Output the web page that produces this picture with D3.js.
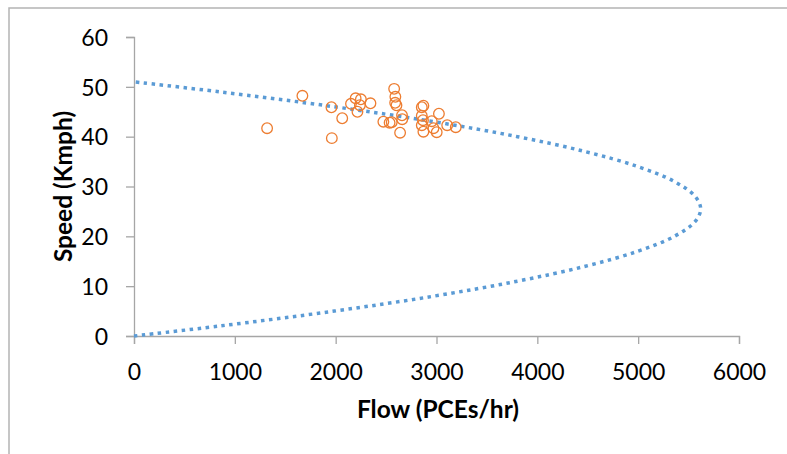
<!DOCTYPE html>
<html>
<head>
<meta charset="utf-8">
<script src="https://cdn.jsdelivr.net/npm/d3@7"></script>
<style>
  body { margin: 0; background: #fff; }
  svg { display: block; font-family: Lato, "Open Sans", sans-serif; }
</style>
</head>
<body>
<div id="chart"></div>
<script>
// observed flow (PCEs/hr) and speed (Kmph) pairs
const obsFlow  = [1320, 1670, 1958, 1962, 2065, 2152, 2198, 2250, 2240, 2216, 2345,
                  2473, 2535, 2556, 2580, 2592, 2590, 2603, 2658, 2660, 2639,
                  2854, 2870, 2854, 2866, 2854, 2870, 2953, 2970, 3002, 3024, 3106, 3191];
const obsSpeed = [41.7, 48.2, 45.9, 39.7, 43.7, 46.6, 47.7, 47.5, 46.3, 45.0, 46.7,
                  43.0, 42.8, 42.9, 49.6, 48.0, 46.8, 46.3, 44.3, 43.5, 40.8,
                  45.9, 46.2, 44.2, 43.3, 42.3, 41.0, 43.1, 41.7, 40.9, 44.6, 42.3, 41.9];

// speed-flow model curve
const curveSpeed = [0, 2, 5, 8, 11, 14, 17, 20, 23, 25.5, 28, 31, 34, 37, 40, 43, 46, 49, 51];
const curveFlow  = [0, 847, 1988, 2974, 3803, 4477, 4996, 5359, 5566, 5620,
                    5566, 5359, 4996, 4477, 3803, 2974, 1988, 847, 0];

const xTicks = [0, 1000, 2000, 3000, 4000, 5000, 6000];
const yTicks = [0, 10, 20, 30, 40, 50, 60];

const W = 787, H = 454;
const margin = {top: 37, right: 48, bottom: 118, left: 134};
const width = W - margin.left - margin.right;
const height = H - margin.top - margin.bottom;

const svg = d3.select("#chart").append("svg")
  .attr("width", W)
  .attr("height", H);

// outer frame (only left and top edges are inside the picture)
svg.append("rect")
  .attr("x", 9).attr("y", 8)
  .attr("width", W + 20).attr("height", H + 20)
  .attr("fill", "none")
  .attr("stroke", "#b4b4b4")
  .attr("stroke-width", 1.5);

const g = svg.append("g")
  .attr("transform", "translate(" + margin.left + "," + margin.top + ")");

const x = d3.scaleLinear().domain([0, 6000]).range([0, width]);
const y = d3.scaleLinear().domain([0, 60]).range([height, 0]);

// axes
const xAxis = g.append("g")
  .attr("transform", "translate(0," + height + ")")
  .call(d3.axisBottom(x).tickValues(xTicks).tickSize(8).tickPadding(20).tickFormat(d3.format("d")));
const yAxis = g.append("g")
  .call(d3.axisLeft(y).tickValues(yTicks).tickSize(8).tickPadding(18).tickFormat(d3.format("d")));

[xAxis, yAxis].forEach(a => {
  a.select(".domain").attr("stroke", "#a6a6a6").attr("stroke-width", 1.3);
  a.selectAll(".tick line").attr("stroke", "#a6a6a6").attr("stroke-width", 1.3);
  a.selectAll(".tick text")
    .attr("fill", "#000")
    .style("font-family", "Lato, sans-serif")
    .style("font-size", "23px");
});
yAxis.selectAll(".tick text").attr("dy", "0.36em");

// model curve
const curvePts = curveSpeed.map((v, i) => [curveFlow[i], v]);
const line = d3.line()
  .x(d => x(d[0]))
  .y(d => y(d[1]))
  .curve(d3.curveCatmullRom);

g.append("path")
  .datum(curvePts)
  .attr("d", line)
  .attr("fill", "none")
  .attr("stroke", "#5b9bd5")
  .attr("stroke-width", 3.5)
  .attr("stroke-dasharray", "3.5,4.5");

// observations
const obs = obsFlow.map((q, i) => ({q: q, v: obsSpeed[i]}));
g.selectAll(".obs")
  .data(obs)
  .enter().append("circle")
  .attr("class", "obs")
  .attr("cx", d => x(d.q))
  .attr("cy", d => y(d.v))
  .attr("r", 5.3)
  .attr("fill", "none")
  .attr("stroke", "#ed7d31")
  .attr("stroke-width", 1.3);

// axis titles
svg.append("text")
  .attr("x", 438)
  .attr("y", 418)
  .attr("text-anchor", "middle")
  .style("font-weight", "bold")
  .style("font-size", "24.5px")
  .text("Flow (PCEs/hr)");

svg.append("text")
  .attr("transform", "translate(72," + (margin.top + height / 2) + ") rotate(-90)")
  .attr("text-anchor", "middle")
  .style("font-weight", "bold")
  .style("font-size", "24.5px")
  .text("Speed (Kmph)");
</script>
</body>
</html>
